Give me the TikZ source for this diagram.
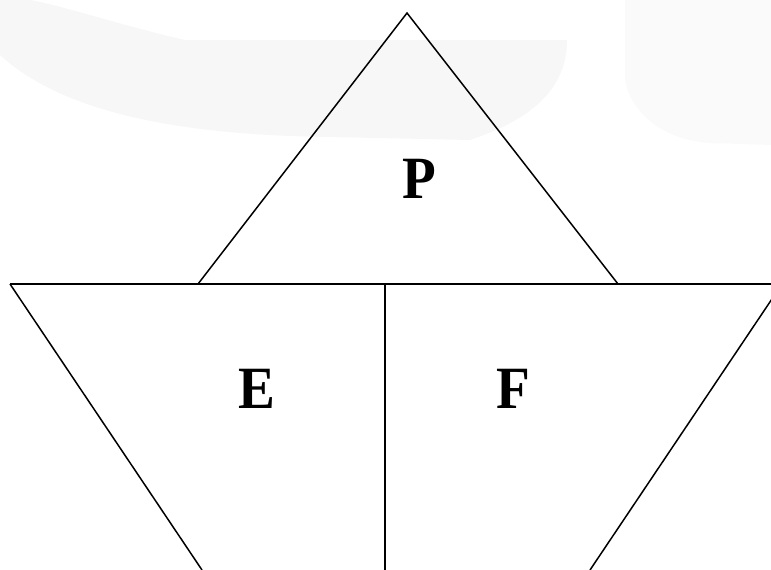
\documentclass[tikz,border=0pt]{standalone}
\usepackage{fontspec}
\setmainfont{Liberation Serif}
\definecolor{wm}{RGB}{247,247,247}
\definecolor{wmr}{RGB}{250,250,250}
\begin{document}
\begin{tikzpicture}[x=1pt,y=-1pt,
  edge/.style={draw=black,line width=1.5pt},
  lab/.style={font=\bfseries\fontsize{60}{60}\selectfont,inner sep=0pt,xscale=0.92}]
\useasboundingbox (0,0) rectangle (771,570);
% faint watermark
\fill[wm] (0,0) -- (0,55) .. controls (60,110) and (170,135) .. (330,137) -- (470,140)
  .. controls (530,120) and (567,90) .. (567,40) -- (185,40)
  .. controls (120,25) and (60,5) .. (30,0) -- cycle;
\fill[wmr] (625,0) -- (625,80) .. controls (630,110) and (660,140) .. (710,143) -- (771,145) -- (771,0) -- cycle;
% coordinates
\coordinate (apex) at (407,13);
\coordinate (pl) at (198,284);
\coordinate (pr) at (618,284);
\coordinate (hl) at (10,284);
\coordinate (hr) at (771,284);
\coordinate (mid) at (385,284);
\coordinate (midb) at (385,570);
\coordinate (lb) at (202,570);
\coordinate (rt) at (782,284);
\coordinate (rb) at (590,570);
% lines
\draw[edge] (pl) -- (apex) -- (pr);
\draw[edge] (hl) -- (hr);
\draw[edge] (mid) -- (midb);
\draw[edge] (hl) -- (lb);
\begin{scope}
\clip (0,0) rectangle (771,570);
\draw[edge] (rt) -- (rb);
\end{scope}
% labels
\node[lab] (P) at (419,179) {P};
\node[lab] (E) at (257,389) {E};
\node[lab] (F) at (513,389) {F};
\end{tikzpicture}
\end{document}
